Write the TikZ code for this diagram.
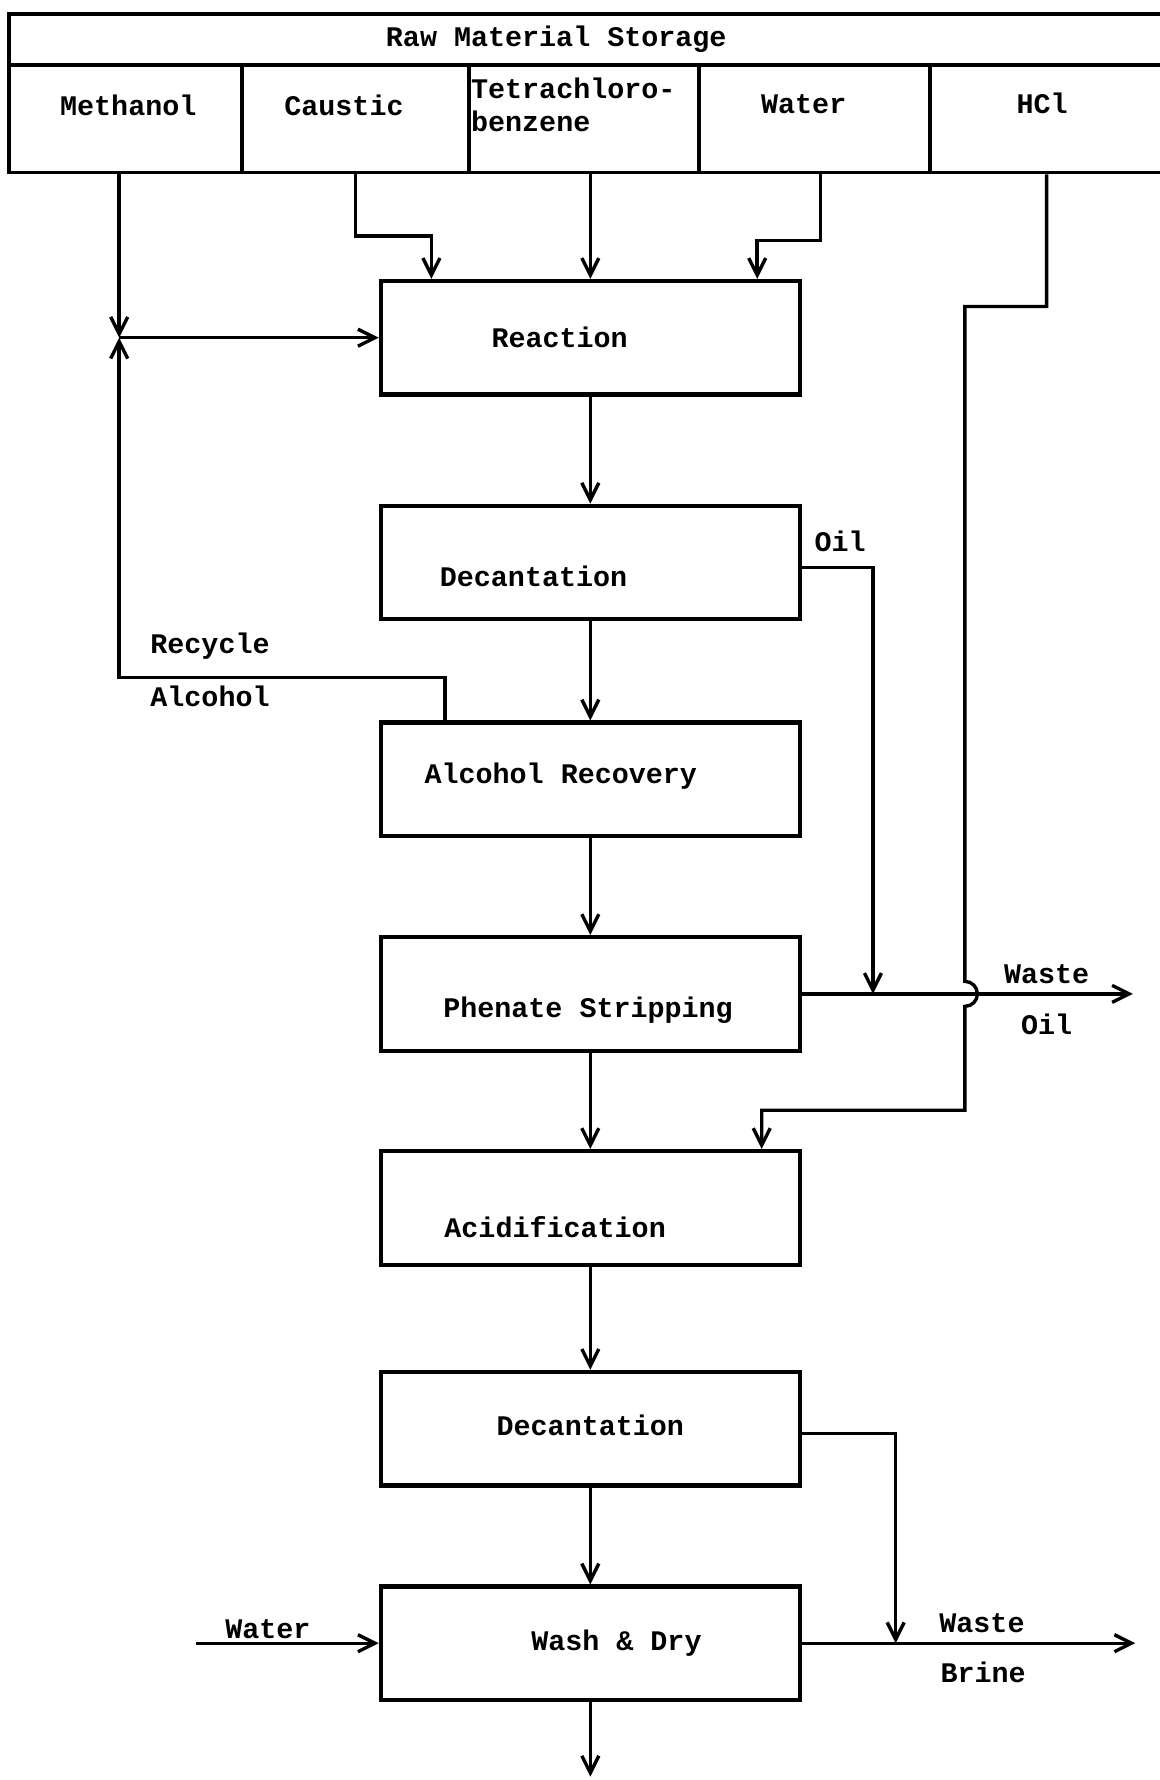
\documentclass[tikz,border=0pt]{standalone}
\usepackage{fontspec}
\setmonofont{Liberation Mono}
\usetikzlibrary{arrows.meta,calc}
\begin{document}
\begin{tikzpicture}[x=0.6pt,y=-0.6pt,
  every node/.style={font=\ttfamily\bfseries\fontsize{15}{17.4}\selectfont, inner sep=1pt},
  box/.style={draw, line width=2.2pt, minimum width=221.4pt, minimum height=60pt, inner sep=0pt},
  cell/.style={draw, line width=2pt, minimum height=57pt, inner sep=0pt},
  arr/.style={line width=1.8pt, -{Straight Barb[length=9pt,width=9pt,line width=1.8pt]}},
  txt/.style={inner sep=1pt}]
\fill[white] (0,0) rectangle (1021,1568);
\useasboundingbox (0,0) rectangle (1021,1568);

% storage table
\node[cell, minimum width=613.2pt, minimum height=27pt, label={[xshift=-17.4pt]center:Raw Material Storage}] (store) at (519,34.5) {};
\node[cell, minimum width=123pt, label={[xshift=1.5pt,yshift=6.9pt]center:Methanol}] (meth) at (110.5,104.5) {};
\node[cell, minimum width=120pt, label={[xshift=-6pt,yshift=6.9pt]center:Caustic}] (caus) at (313,104.5) {};
\node[cell, minimum width=121.8pt, label={[anchor=west,align=left,xshift=1pt,yshift=7.2pt]west:Tetrachloro-\\benzene}] (tet) at (514.5,104.5) {};
\node[cell, minimum width=121.8pt, label={[xshift=-5.7pt,yshift=7.5pt]center:Water}] (wat) at (717.5,104.5) {};
\node[cell, minimum width=126.6pt, label={[xshift=-3.9pt,yshift=8pt]center:HCl}] (hcl) at (924.5,104.5) {};

% process boxes
\node[box, label={[xshift=-16.2pt]center:Reaction}] (react) at (520,297.5) {};
\node[box, label={[xshift=-30pt,yshift=-7.5pt]center:Decantation}] (dec1) at (520,495.5) {};
\node[box, label={[xshift=-15.6pt,yshift=1.5pt]center:Alcohol Recovery}] (alc) at (520,686.5) {};
\node[box, label={[xshift=-1.2pt,yshift=-8.7pt]center:Phenate Stripping}] (phen) at (520,875.5) {};
\node[box, label={[xshift=-18.6pt,yshift=-10.2pt]center:Acidification}] (acid) at (520,1064) {};
\node[box, label={[xshift=0pt,yshift=1.5pt]center:Decantation}] (dec2) at (520,1258.5) {};
\node[box, label={[xshift=13.8pt,yshift=0pt]center:Wash \& Dry}] (wash) at (520,1447.5) {};

% coordinates
\coordinate (J) at (105,297.5);
\coordinate (recyc) at (392,597);
\coordinate (cB) at (380,208);
\coordinate (wx) at (723,0);
\coordinate (wB) at (667,212);
\coordinate (hx) at (922,0);
\coordinate (h1) at (850,270);
\coordinate (h2) at (850,978);
\coordinate (h3) at (671,978);
\coordinate (o1) at (769,500);
\coordinate (wo) at (998,0);
\coordinate (b1) at (789,1263);
\coordinate (wb) at (1000,0);
\coordinate (win) at (173,0);
\coordinate (prod) at (520,1565);

% feeds
\draw[arr] (meth.south -| J) -- (J);
\draw[arr] (alc.north -| recyc) -- (recyc) -| (J);
\draw[arr] (J) -- (react.west);
\draw[arr] (caus.south) |- (cB) -- (react.north -| cB);
\draw[arr] (react.north |- tet.south) -- (react.north);
\draw[arr] (wat.south -| wx) |- (wB) -- (react.north -| wB);
\draw[arr] (hcl.south -| hx) |- (h1) -- ($(phen.east -| h1)+(0,-11)$)
   arc[start angle=90,end angle=-90,radius=6.6pt] -- (h2) -- (h3) -- (acid.north -| h3);

% main line
\draw[arr] (react.south) -- (dec1.north);
\draw[arr] (dec1.south) -- (alc.north);
\draw[arr] (alc.south) -- (phen.north);
\draw[arr] (phen.south) -- (acid.north);
\draw[arr] (acid.south) -- (dec2.north);
\draw[arr] (dec2.south) -- (wash.north);
\draw[arr] (wash.south) -- (prod);

% side streams
\draw[arr] (dec1.east |- o1) -- (o1) -- (phen.east -| o1);
\draw[arr] (phen.east) -- (phen.east -| wo);
\draw[arr] (dec2.east |- b1) -- (b1) -- (wash.east -| b1);
\draw[arr] (wash.east) -- (wash.east -| wb);
\draw[arr] (wash.west -| win) -- (wash.west);

% labels
\node[txt] (lOil1) at (740,477) {Oil};
\node[txt] (lWaste1) at (922,858) {Waste};
\node[txt] (lOil2) at (922,902) {Oil};
\node[txt] (lRec) at (185,569) {Recycle};
\node[txt] (lAlc) at (185,613) {Alcohol};
\node[txt] (lWater) at (236,1435) {Water};
\node[txt] (lWaste2) at (865,1430) {Waste};
\node[txt] (lBrine) at (866,1473) {Brine};
\end{tikzpicture}
\end{document}
